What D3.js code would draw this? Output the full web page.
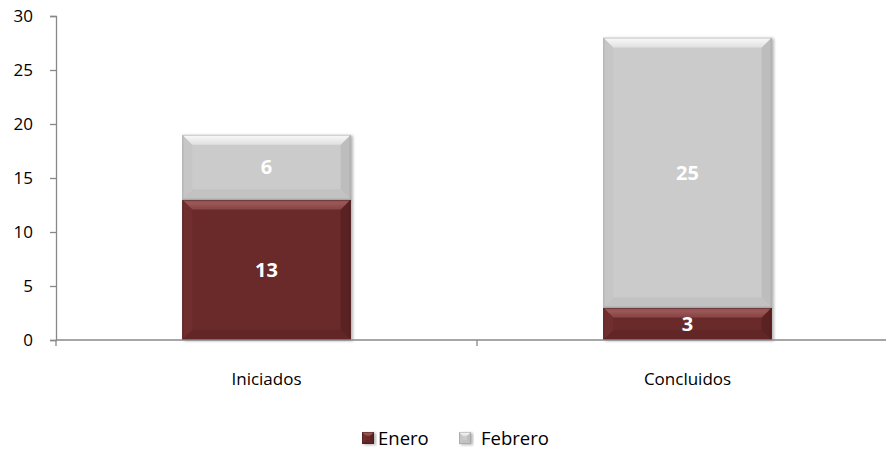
<!DOCTYPE html>
<html>
<head>
<meta charset="utf-8">
<script src="https://cdn.jsdelivr.net/npm/d3@7"></script>
<style>
  html, body { margin: 0; padding: 0; background: #fff; }
  svg { display: block; font-family: "Open Sans", "Noto Sans", sans-serif; }
</style>
</head>
<body>
<svg id="chart" width="886" height="450"></svg>
<script>
const categories = ["Iniciados", "Concluidos"];
const seriesNames = ["Enero", "Febrero"];
const enero = [13, 3];
const febrero = [6, 25];
const yTicks = [0, 5, 10, 15, 20, 25, 30];

const colors = {
  Enero: { face: "#6B2A2A", top: "#A86262", bottom: "#632727", left: "#6F2D2D", right: "#5A2222", edge: "#3F1414" },
  Febrero: { face: "#CBCBCB", top: "#FAFAFA", bottom: "#C2C2C2", left: "#C6C6C6", right: "#BDBDBD", edge: "#8E8E8E" }
};

const svg = d3.select("#chart");
const plotLeft = 56, plotRight = 898, plotTop = 16, plotBottom = 340;

const x0 = d3.scaleBand().domain(categories).range([plotLeft, plotRight]).padding(0);
const y = d3.scaleLinear().domain([0, 30]).range([plotBottom, plotTop]);

const rows = categories.map((c, i) => ({ cat: c, Enero: enero[i], Febrero: febrero[i] }));
const stack = d3.stack().keys(seriesNames)(rows);

const defs = svg.append("defs");
const f = defs.append("filter").attr("id", "shadow").attr("x", "-10%").attr("y", "-10%").attr("width", "130%").attr("height", "130%");
f.append("feGaussianBlur").attr("in", "SourceAlpha").attr("stdDeviation", 1.5);
f.append("feOffset").attr("dx", 2).attr("dy", 1).attr("result", "ob");
f.append("feComponentTransfer").append("feFuncA").attr("type", "linear").attr("slope", 0.3);
const fm = f.append("feMerge");
fm.append("feMergeNode");
fm.append("feMergeNode").attr("in", "SourceGraphic");

seriesNames.forEach(s => {
  const g = defs.append("linearGradient").attr("id", "top-" + s).attr("x1", 0).attr("y1", 0).attr("x2", 0).attr("y2", 1);
  g.append("stop").attr("offset", "0%").attr("stop-color", colors[s].top);
  g.append("stop").attr("offset", "100%").attr("stop-color", d3.interpolateRgb(colors[s].top, colors[s].face)(0.55));
});

function bevel(g, x, yy, w, h, s, b) {
  b = Math.min(b, h / 2, w / 2);
  const c = colors[s];
  const grp = g.append("g").attr("filter", "url(#shadow)");
  grp.append("rect").attr("x", x).attr("y", yy).attr("width", w).attr("height", h).attr("fill", c.face);
  const poly = (pts, fill) => grp.append("polygon").attr("points", pts.map(p => p.join(",")).join(" ")).attr("fill", fill);
  poly([[x, yy + h], [x + w, yy + h], [x + w - b, yy + h - b], [x + b, yy + h - b]], c.bottom);
  poly([[x, yy], [x + b, yy + b], [x + b, yy + h - b], [x, yy + h]], c.left);
  poly([[x + w, yy], [x + w - b, yy + b], [x + w - b, yy + h - b], [x + w, yy + h]], c.right);
  poly([[x, yy], [x + w, yy], [x + w - b, yy + b], [x + b, yy + b]], "url(#top-" + s + ")");
  grp.append("rect").attr("x", x + 0.5).attr("y", yy + 0.5).attr("width", w - 1).attr("height", h - 1)
    .attr("fill", "none").attr("stroke", c.edge).attr("stroke-opacity", 0.45);
}

const barsG = svg.append("g");
const bw = x0.bandwidth() * 0.4;
stack.forEach(layer => {
  const s = layer.key;
  layer.forEach(d => {
    const xx = x0(d.data.cat) + (x0.bandwidth() - bw) / 2;
    const y1 = y(d[1]), y0v = y(d[0]);
    bevel(barsG, xx, y1, bw, y0v - y1, s, 10);
  });
});

stack.forEach(layer => {
  layer.forEach(d => {
    const xx = x0(d.data.cat) + x0.bandwidth() / 2;
    const ym = (y(d[0]) + y(d[1])) / 2;
    svg.append("text").attr("x", xx).attr("y", ym).attr("dy", "0.36em")
      .attr("text-anchor", "middle").attr("fill", "#fff").attr("font-weight", "bold")
      .attr("font-size", 20).text(d.data[layer.key]);
  });
});

const yAxis = d3.axisLeft(y).tickValues(yTicks).tickSize(6).tickPadding(17).tickFormat(d3.format("d"));
const yg = svg.append("g").attr("transform", `translate(${plotLeft},0)`).call(yAxis);
yg.attr("font-family", null).attr("font-size", null);
yg.select(".domain").attr("stroke", "#888").attr("stroke-width", 1.3);
yg.selectAll(".tick line").attr("stroke", "#888").attr("stroke-width", 1.3);
yg.selectAll(".tick text").attr("font-size", 17).attr("fill", "#000");

const xg = svg.append("g");
xg.append("line").attr("x1", plotLeft).attr("x2", plotRight).attr("y1", plotBottom).attr("y2", plotBottom)
  .attr("stroke", "#888").attr("stroke-width", 1.3);
const bounds = categories.map(c => x0(c)).concat([plotRight]);
xg.selectAll("line.tk").data(bounds).join("line").attr("class", "tk")
  .attr("x1", d => d).attr("x2", d => d).attr("y1", plotBottom).attr("y2", plotBottom + 6)
  .attr("stroke", "#888").attr("stroke-width", 1.3);
xg.selectAll("text").data(categories).join("text")
  .attr("x", d => x0(d) + x0.bandwidth() / 2).attr("y", 379).attr("dy", "0.36em")
  .attr("text-anchor", "middle").attr("font-size", 17).attr("fill", "#000").text(d => d);

const legend = svg.append("g");
const legItems = [{ name: "Enero", mx: 362, tx: 378 }, { name: "Febrero", mx: 459, tx: 481 }];
legItems.forEach(it => {
  bevel(legend, it.mx, 432, 12, 12, it.name, 4);
  legend.append("text").attr("x", it.tx).attr("y", 438).attr("dy", "0.36em")
    .attr("font-size", 18.5).attr("fill", "#000").text(it.name);
});
</script>
</body>
</html>
